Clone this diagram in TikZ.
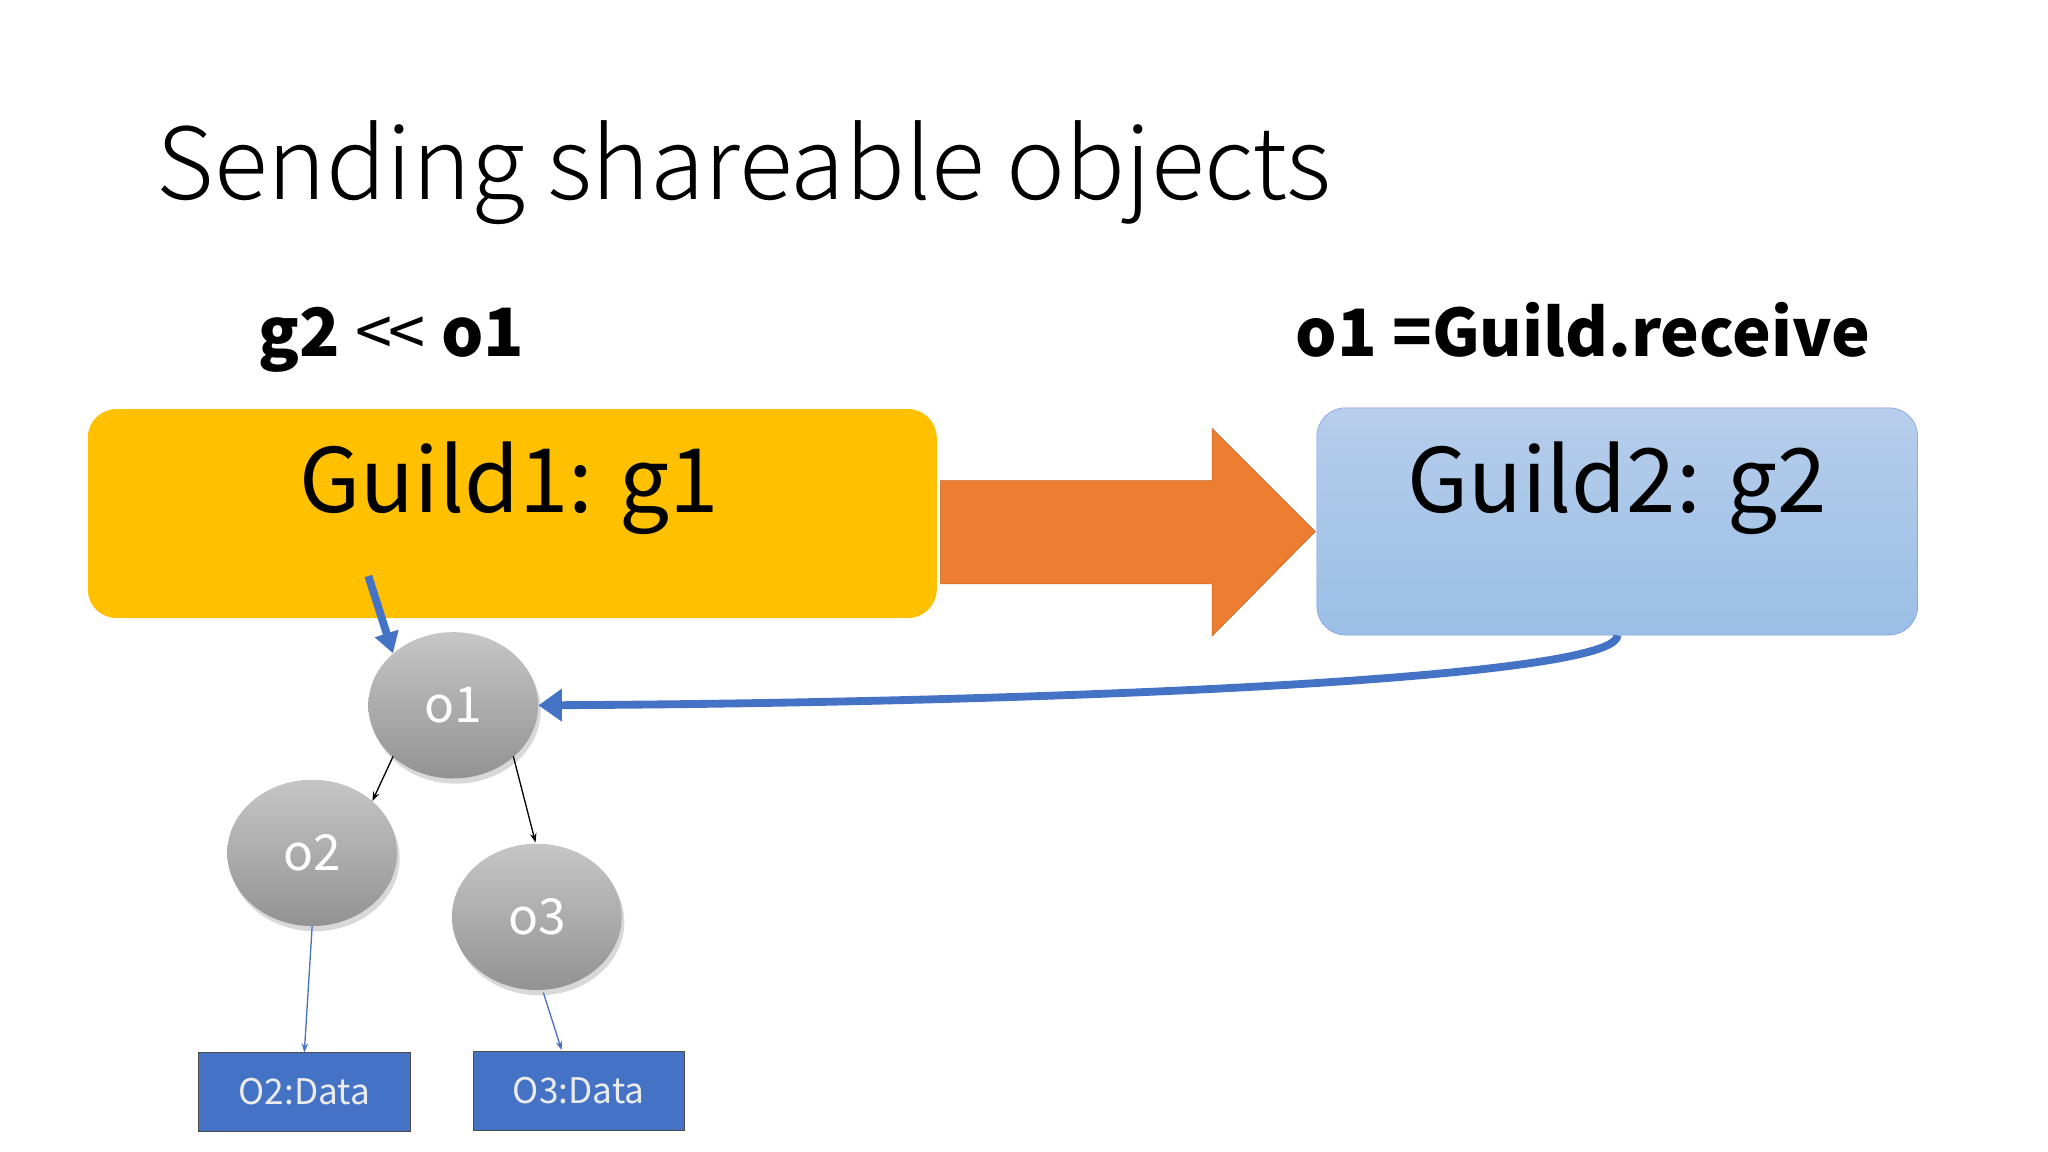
\documentclass[tikz,border=0pt]{standalone}
\usepackage{fontspec}
\setmainfont{Noto Sans CJK JP}
\newfontfamily\lightf{Noto Sans CJK JP Light}
\usetikzlibrary{arrows.meta,shadows,shapes.geometric}
\definecolor{gold}{HTML}{FFC000}
\definecolor{orng}{HTML}{ED7D31}
\definecolor{bl}{HTML}{4472C4}
\definecolor{lb1}{HTML}{B7CDEB}
\definecolor{lb2}{HTML}{9ABFE6}
\tikzset{
 obj/.style={ellipse, minimum width=130pt, minimum height=112pt, top color=gray!45, bottom color=gray!85, draw=none,
   drop shadow={shadow xshift=2pt,shadow yshift=-4pt,opacity=0.3}, text=white, font=\fontsize{38}{38}\selectfont},
 databox/.style={draw=black!70, fill=bl, minimum width=162pt, minimum height=60pt, text=white!92!black, font=\fontsize{27}{27}\selectfont, inner sep=0},
 thin/.style={-{Stealth[length=7pt,width=5pt]}, line width=1pt},
}
\begin{document}
\begin{tikzpicture}[x=1pt,y=-1pt]
\useasboundingbox[fill=white] (0,0) rectangle (1568,882);
\node[anchor=base west, inner sep=0, font=\fontsize{76}{76}\selectfont] (title) at (120,153) {\lightf Sending shareable objects};
\node[anchor=base west, inner sep=0, font=\bfseries\fontsize{51}{51}\selectfont] (lab1) at (198,273) {g2 {\mdseries<}\hspace{-3pt}{\mdseries<} o1};
\node[anchor=base west, inner sep=0, font=\bfseries\fontsize{50}{50}\selectfont] (lab2) at (992,273) {o1 =Guild.receive};
\node[fill=gold, rounded corners=22pt, minimum width=650pt, minimum height=160pt, anchor=north west] (g1) at (67,313) {};
\node[font=\fontsize{68}{68}\selectfont, anchor=base] (g1t) at (390,392) {Guild1: g1};
\node[top color=lb1, bottom color=lb2, draw=lb2!80!blue, rounded corners=22pt, minimum width=460pt, minimum height=174pt, anchor=north west] (g2) at (1008,312) {};
\node[font=\fontsize{68}{68}\selectfont, anchor=base] (g2t) at (1238,392) {Guild2: g2};
\draw[fill=orng, draw=orng!80!black] (720,368) -- (928,368) -- (928,328) -- (1007,407) -- (928,487) -- (928,447) -- (720,447) -- cycle;
\node[obj] (o1) at (347,540) {o1};
\node[obj] (o2) at (239,653) {o2};
\node[obj] (o3) at (411,702) {o3};
\node[databox] (d2) at (233,836) {O2:Data};
\node[databox] (d3) at (443,835) {O3:Data};
\coordinate (s1) at (282,441);
\draw[bl, line width=6pt, -{Triangle[length=16pt,width=18pt]}] (s1) -- (o1.north west);
\draw[bl, line width=6pt, -{Triangle[length=18pt,width=24pt]}] (g2.south) .. controls (1240,520) and (800,538) .. (o1.east);
\draw[thin] (301,579) -- (o2.north east);
\draw[thin] (393,579) -- (410,645);
\draw[thin, bl] (o2.south) -- (d2.north);
\draw[thin, bl] (416,760) -- (430,804);
\end{tikzpicture}
\end{document}
